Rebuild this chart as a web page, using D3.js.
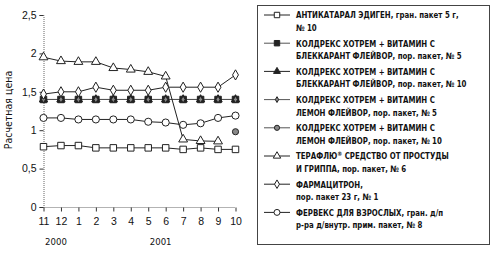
<!DOCTYPE html>
<html>
<head>
<meta charset="utf-8">
<script src="https://cdn.jsdelivr.net/npm/d3@7"></script>
<style>
body { margin:0; background:#fff; }
svg text { font-family: "Liberation Sans Narrow", "DejaVu Sans Condensed", "Liberation Sans", sans-serif; fill:#111; }
</style>
</head>
<body>
<script>
// months Nov 2000 .. Oct 2001
var months = ["11","12","1","2","3","4","5","6","7","8","9","10"];
var yearLabels = [{year:"2000", at:"12"}, {year:"2001", at:"6"}];
var yTicks = [0, 0.5, 1, 1.5, 2, 2.5];

var antikataral   = [0.785, 0.80, 0.80, 0.77, 0.77, 0.77, 0.77, 0.77, 0.75, 0.77, 0.75, 0.75];
var coldBlack5    = [1.40, 1.40, 1.40, 1.40, 1.40, 1.40, 1.40, 1.40, 1.40, 1.40, 1.40, 1.40];
var coldBlack10   = [1.40, 1.40, 1.40, 1.40, 1.40, 1.40, 1.40, 1.40, 1.40, 1.40, 1.40, 1.40];
var coldLemon5    = [1.40, 1.40, 1.40, 1.40, 1.40, 1.40, 1.40, 1.40, 1.40, 1.40, 1.40, 1.40];
var coldLemon10   = [null, null, null, null, null, null, null, null, null, null, null, 0.98];
var teraflu       = [1.95, 1.90, 1.89, 1.89, 1.81, 1.79, 1.76, 1.70, 0.88, 0.86, 0.855, null];
var farmacitron   = [1.47, 1.50, 1.50, 1.56, 1.52, 1.52, 1.52, 1.56, 1.56, 1.56, 1.56, 1.72];
var fervex        = [1.16, 1.16, 1.14, 1.14, 1.14, 1.14, 1.11, 1.10, 1.07, 1.09, 1.16, 1.19];

var legendLines = [
  ["АНТИКАТАРАЛ ЭДИГЕН, гран. пакет 5 г,", "№ 10"],
  ["КОЛДРЕКС ХОТРЕМ + ВИТАМИН С", "БЛЕККАРАНТ ФЛЕЙВОР, пор. пакет, № 5"],
  ["КОЛДРЕКС ХОТРЕМ + ВИТАМИН С", "БЛЕККАРАНТ ФЛЕЙВОР, пор. пакет, № 10"],
  ["КОЛДРЕКС ХОТРЕМ + ВИТАМИН С", "ЛЕМОН ФЛЕЙВОР, пор. пакет, № 5"],
  ["КОЛДРЕКС ХОТРЕМ + ВИТАМИН С", "ЛЕМОН ФЛЕЙВОР, пор. пакет, № 10"],
  ["ТЕРАФЛЮ|® СРЕДСТВО ОТ ПРОСТУДЫ", "И ГРИППА, пор. пакет, № 6"],
  ["ФАРМАЦИТРОН,", "пор. пакет 23 г, № 1"],
  ["ФЕРВЕКС ДЛЯ ВЗРОСЛЫХ, гран. д/п", "р-ра д/внутр. прим. пакет, № 8"]
];

var series = [
  {values: antikataral, sym: d3.symbolSquare, size: 42, fill: "#fff", line: "#222"},
  {values: coldBlack5, sym: d3.symbolSquare, size: 42, fill: "#222", line: "#555"},
  {values: coldBlack10, sym: d3.symbolTriangle, size: 30, fill: "#222", line: "#222"},
  {values: coldLemon5, sym: d3.symbolDiamond, size: 14, fill: "#888", line: "#555"},
  {values: coldLemon10, sym: d3.symbolCircle, size: 30, fill: "#888", line: "#555"},
  {values: teraflu, sym: d3.symbolTriangle, size: 34, fill: "#fff", line: "#222"},
  {values: farmacitron, sym: d3.symbolDiamond, size: 30, fill: "#fff", line: "#222"},
  {values: fervex, sym: d3.symbolCircle, size: 40, fill: "#fff", line: "#222"}
];

var svg = d3.select("body").append("svg")
  .attr("width", 500)
  .attr("height", 253);

var x = d3.scalePoint().domain(months).range([43.5, 235.5]);
var y = d3.scaleLinear().domain([0, 2.5]).range([207, 15]);

// axes
var yAxis = svg.append("g").attr("transform", "translate(43.5,0)")
  .call(d3.axisLeft(y).tickValues(yTicks).tickSize(4)
    .tickFormat(function(d){ return String(d).replace(".", ","); }));
yAxis.select(".domain").attr("stroke", "#666").attr("stroke-dasharray", "1,1");
yAxis.selectAll(".tick line").attr("stroke", "#333");
yAxis.selectAll(".tick text").attr("x", -7).attr("font-size", 10.5)
  .style("font-family", '"Liberation Sans Narrow", sans-serif');

var xAxis = svg.append("g").attr("transform", "translate(0,207.5)")
  .call(d3.axisBottom(x).tickSize(4).tickPadding(6));
xAxis.select(".domain").attr("stroke", "#666").attr("stroke-dasharray", "1,1")
  .attr("d", "M43.5,0H235.5");
xAxis.selectAll(".tick line").attr("stroke", "#333");
xAxis.selectAll(".tick text").attr("font-size", 10.5)
  .style("font-family", '"Liberation Sans Narrow", sans-serif');

svg.selectAll(".yr").data(yearLabels).enter().append("text")
  .attr("class", "yr")
  .attr("x", function(d){ return x(d.at) - 5; })
  .attr("y", 245)
  .attr("text-anchor", "middle")
  .attr("font-size", 9.5)
  .text(function(d){ return d.year; });

svg.append("text")
  .attr("transform", "translate(12,110) rotate(-90)")
  .attr("text-anchor", "middle")
  .attr("font-size", 10.5)
  .text("Расчетная цена");

// lines + markers
var line = d3.line()
  .defined(function(d){ return d != null; })
  .x(function(d, i){ return x(months[i]); })
  .y(function(d){ return y(d); });

series.forEach(function(s){
  svg.append("path")
    .datum(s.values)
    .attr("fill", "none")
    .attr("stroke", s.line)
    .attr("stroke-width", 1)
    .attr("d", line);
});

series.forEach(function(s){
  var pts = s.values.map(function(v, i){ return {v: v, m: months[i]}; })
    .filter(function(p){ return p.v != null; });
  svg.selectAll(null).data(pts).enter().append("path")
    .attr("transform", function(p){ return "translate(" + x(p.m) + "," + y(p.v) + ")"; })
    .attr("d", d3.symbol().type(s.sym).size(s.size))
    .attr("fill", s.fill)
    .attr("stroke", "#222")
    .attr("stroke-width", 1);
});

// legend
var lg = svg.append("g");
lg.append("rect")
  .attr("x", 257.5).attr("y", 5.5)
  .attr("width", 232).attr("height", 239)
  .attr("fill", "none").attr("stroke", "#444").attr("stroke-width", 1);

series.forEach(function(s, i){
  var cy = 15 + i * 28.2;
  lg.append("line")
    .attr("x1", 264).attr("x2", 290)
    .attr("y1", cy).attr("y2", cy)
    .attr("stroke", s.line).attr("stroke-width", 1);
  lg.append("path")
    .attr("transform", "translate(277," + cy + ")")
    .attr("d", d3.symbol().type(s.sym).size(s.size * 0.7))
    .attr("fill", s.fill).attr("stroke", "#222");
  var tg = lg.append("g").attr("transform", "translate(296,0) scale(0.92,1)");
  legendLines[i].forEach(function(txt, j){
    var t = tg.append("text")
      .attr("x", 0)
      .attr("y", cy + 3.5 + j * 12.5)
      .attr("font-size", 8.5)
      .attr("font-weight", "bold");
    var parts = txt.split("|");
    t.append("tspan").text(parts[0]);
    if (parts.length > 1) {
      t.append("tspan").attr("font-size", 6).attr("dy", -3).text(parts[1].charAt(0));
      t.append("tspan").attr("dy", 3).text(parts[1].slice(1));
    }
  });
});
</script>
</body>
</html>
